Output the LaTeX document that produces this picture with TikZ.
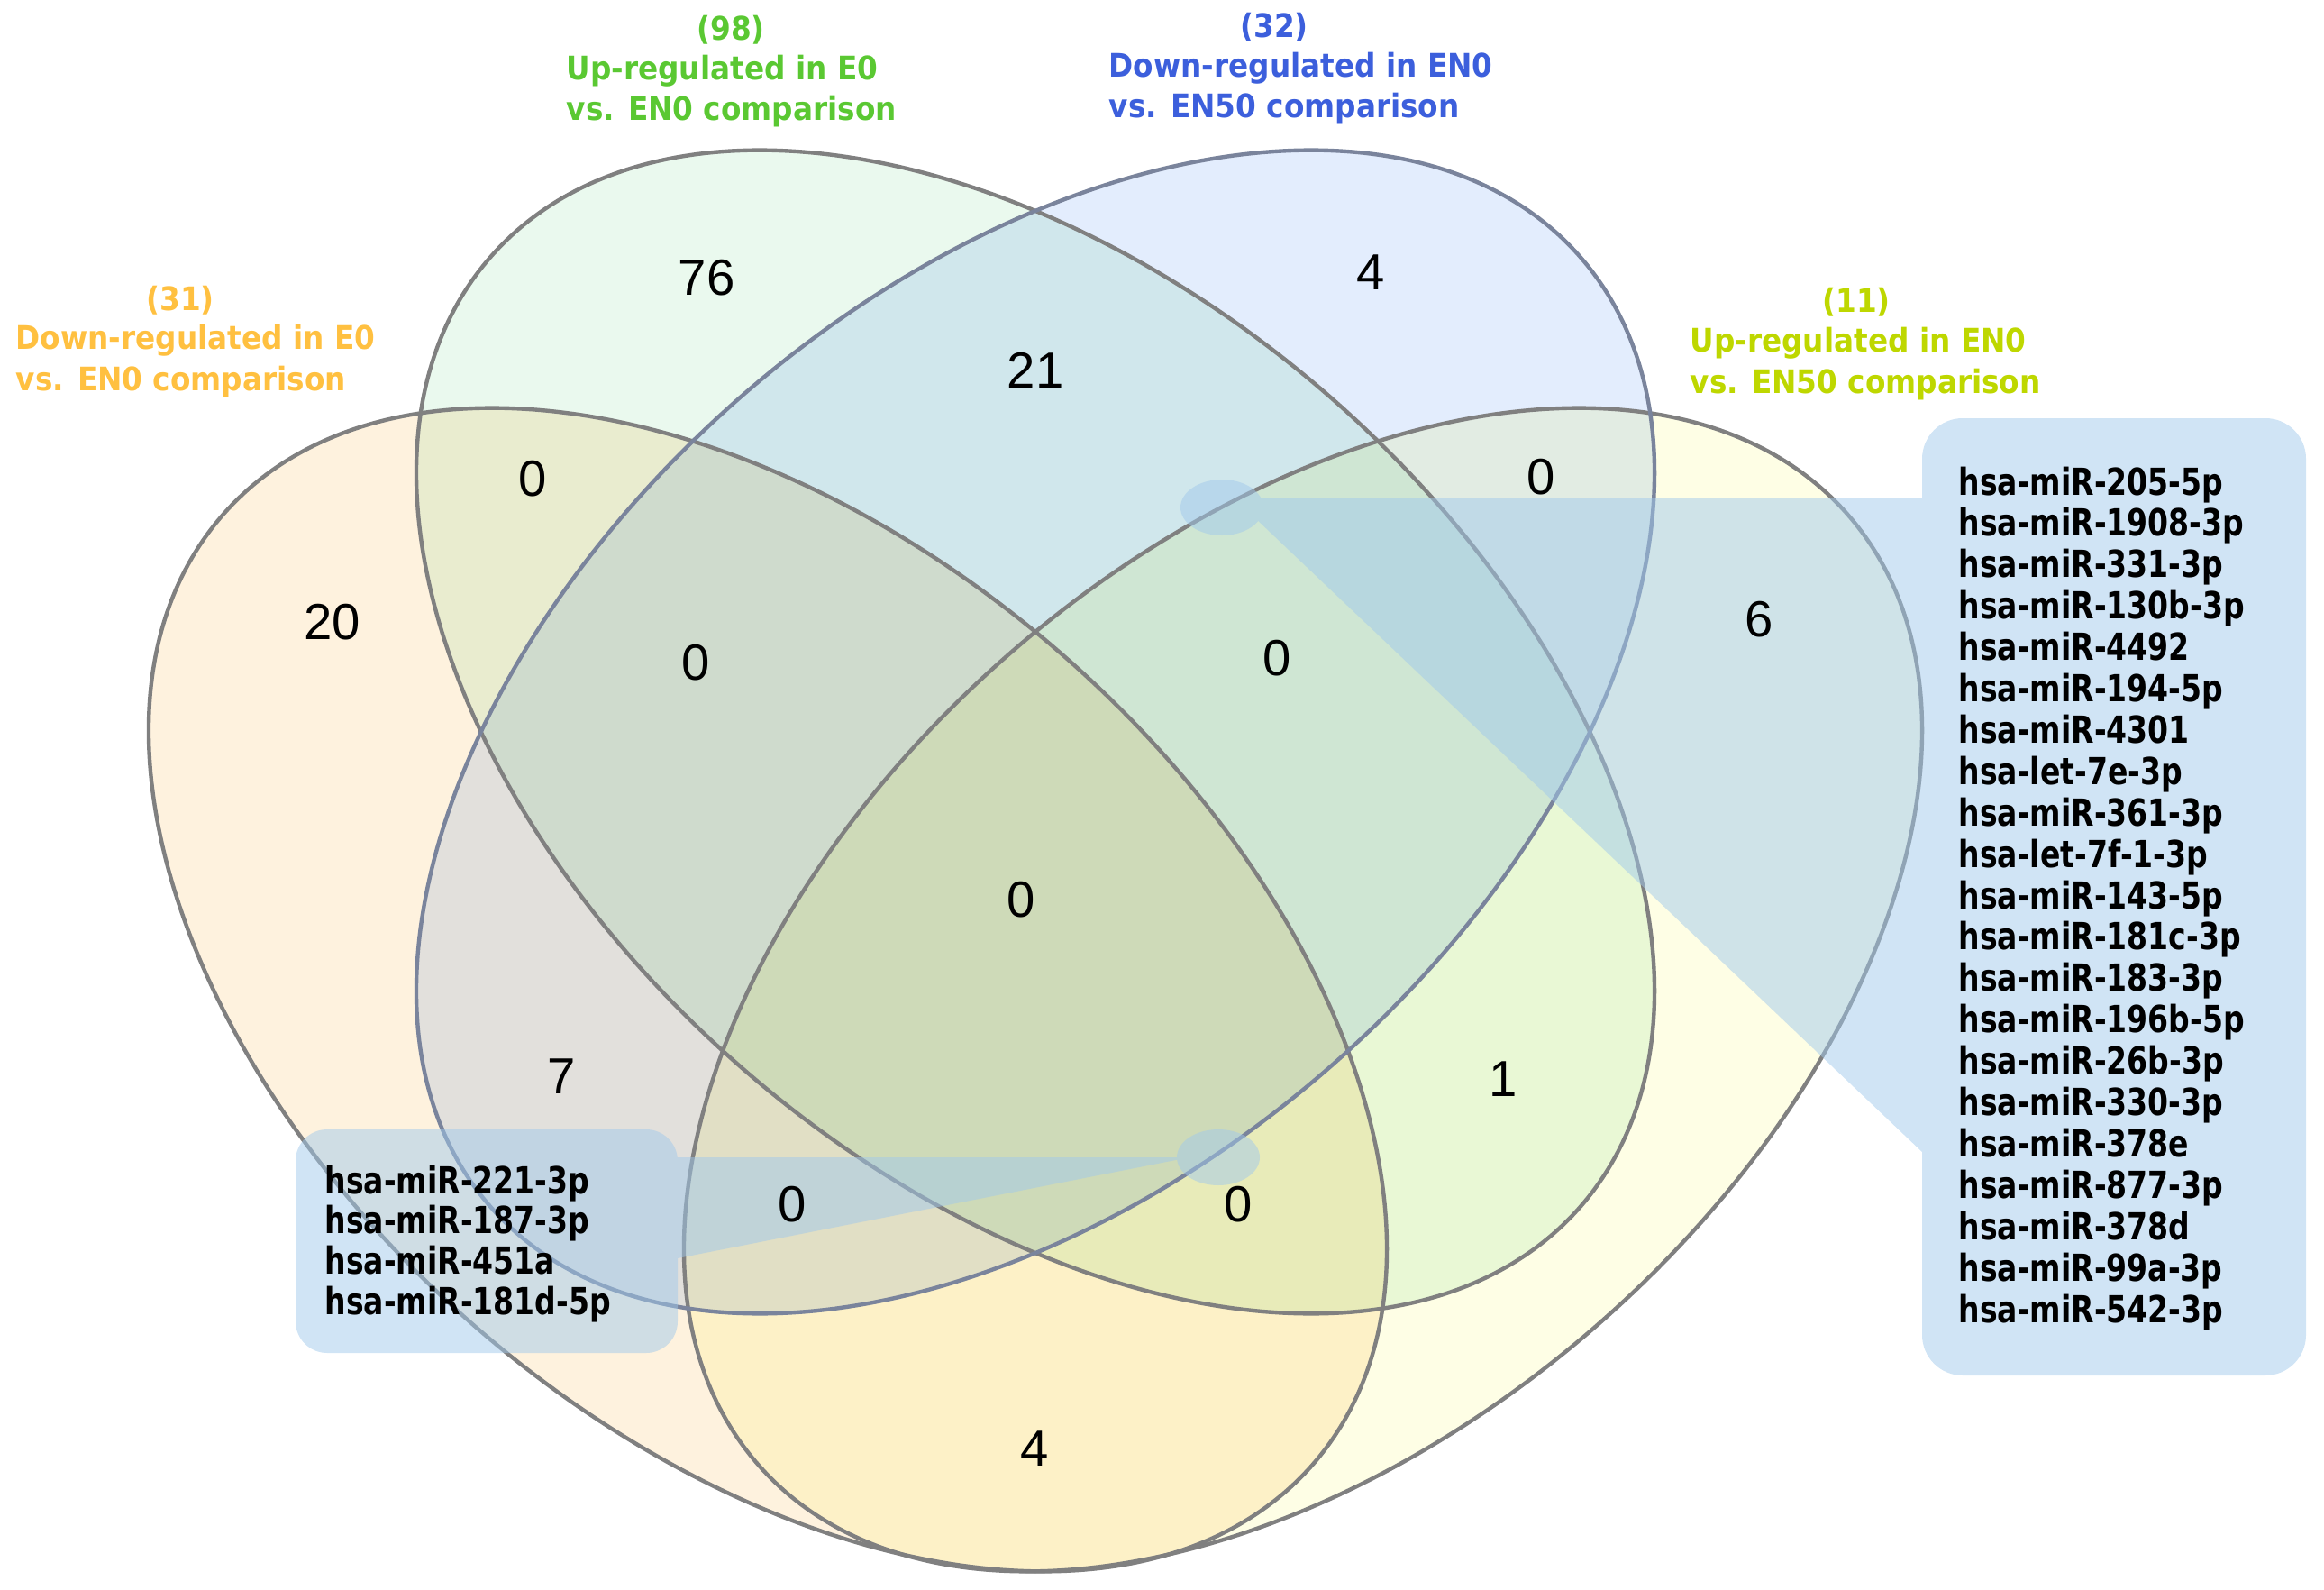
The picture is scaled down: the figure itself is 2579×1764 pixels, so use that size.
\documentclass[tikz,border=0pt]{standalone}
\usepackage{fontspec}
\setmainfont{DejaVu Sans}
\newfontfamily\lblfont{DejaVu Sans}
\newfontfamily\numfont{Liberation Sans}
\definecolor{fillA}{RGB}{254,242,222}
\definecolor{fillB}{RGB}{234,249,238}
\definecolor{fillC}{RGB}{227,237,253}
\definecolor{fillD}{RGB}{254,254,229}
\definecolor{lineG}{RGB}{128,128,128}
\definecolor{lineBl}{RGB}{122,132,156}
\definecolor{callout}{RGB}{161,201,235}
\definecolor{tA}{RGB}{255,192,64}
\definecolor{tB}{RGB}{90,200,50}
\definecolor{tC}{RGB}{60,95,220}
\definecolor{tD}{RGB}{190,215,0}
\newcommand{\tallA}[1]{\scalebox{1}[1.1]{#1}}
\newcommand{\tallB}[1]{\scalebox{1}[1.25]{#1}}
\tikzset{
  num/.style={font=\numfont\fontsize{16}{16}\selectfont, inner sep=0pt},
  ttl/.style={font=\lblfont\bfseries\fontsize{9.3}{11}\selectfont, inner sep=0pt, anchor=base west},
  cnt/.style={font=\lblfont\bfseries\fontsize{9.3}{11}\selectfont, inner sep=0pt, anchor=base},
  lst/.style={font=\lblfont\bfseries\fontsize{9.4}{11}\selectfont, inner sep=0pt, anchor=base west},
  setline/.style={draw=lineG, line width=1.25pt},
}
\begin{document}
\begin{tikzpicture}[x=0.01cm,y=-0.01cm]
\useasboundingbox (0,0) rectangle (2579,1764);
% set fills
\begin{scope}[blend group=multiply]
  \fill[fillA, rotate around={-41:(852,1098)}] (852,1098) ellipse (802 and 495);
  \fill[fillB, rotate around={-41:(1149,812)}] (1149,812) ellipse (802 and 495);
  \fill[fillC, rotate around={41:(1149,812)}] (1149,812) ellipse (802 and 495);
  \fill[fillD, rotate around={41:(1446,1098)}] (1446,1098) ellipse (802 and 495);
\end{scope}
% set outlines
\draw[setline, rotate around={-41:(852,1098)}] (852,1098) ellipse (802 and 495);
\draw[setline, rotate around={41:(1446,1098)}] (1446,1098) ellipse (802 and 495);
\draw[setline, rotate around={-41:(1149,812)}] (1149,812) ellipse (802 and 495);
\draw[setline, draw=lineBl, rotate around={41:(1149,812)}] (1149,812) ellipse (802 and 495);
% callouts
\coordinate (dotR) at (1356,563);
\coordinate (dotL) at (1352,1284);
\begin{scope}[transparency group, opacity=0.5]
  \fill[callout, rounded corners=0.45cm] (2133,464) rectangle (2559,1526);
  \fill[callout] (1370,553) -- (2150,553) -- (2150,1278) -- (2133,1278) -- cycle;
  \fill[callout] (dotR) ellipse (46 and 31);
  \fill[callout, rounded corners=0.35cm] (328,1253) rectangle (752,1501);
  \fill[callout] (735,1284) -- (1320,1284) -- (752,1396) -- (735,1396) -- cycle;
  \fill[callout] (dotL) ellipse (46 and 31);
\end{scope}
% titles
\node[cnt, text=tA] (cntA) at (200,345) {\tallA{(31)}};
\node[ttl, text=tA] (tA1) at (17,388) {\tallA{Down-regulated in E0}};
\node[ttl, text=tA] (tA2) at (17,434) {\tallA{vs. EN0 comparison}};
\node[cnt, text=tB] (cntB) at (811,45) {\tallA{(98)}};
\node[ttl, text=tB] (tB1) at (628,89) {\tallA{Up-regulated in E0}};
\node[ttl, text=tB] (tB2) at (628,134) {\tallA{vs. EN0 comparison}};
\node[cnt, text=tC] (cntC) at (1414,42) {\tallA{(32)}};
\node[ttl, text=tC] (tC1) at (1230,86) {\tallA{Down-regulated in EN0}};
\node[ttl, text=tC] (tC2) at (1230,131) {\tallA{vs. EN50 comparison}};
\node[cnt, text=tD] (cntD) at (2060,347) {\tallA{(11)}};
\node[ttl, text=tD] (tD1) at (1875,390) {\tallA{Up-regulated in EN0}};
\node[ttl, text=tD] (tD2) at (1875,436) {\tallA{vs. EN50 comparison}};
% region counts
\node[num] (nB) at (784,308) {76};
\node[num] (nC) at (1521,302) {4};
\node[num] (nBC) at (1149,411) {21};
\node[num] (nAB) at (591,531) {0};
\node[num] (nCD) at (1710,529) {0};
\node[num] (nA) at (369,690) {20};
\node[num] (nD) at (1952,687) {6};
\node[num] (nABC) at (772,735) {0};
\node[num] (nBCD) at (1417,730) {0};
\node[num] (nABCD) at (1133,998) {0};
\node[num] (nAC) at (623,1194) {7};
\node[num] (nBD) at (1668,1197) {1};
\node[num] (nACD) at (879,1336) {0};
\node[num] (nABD) at (1374,1336) {0};
\node[num] (nAD) at (1148,1607) {4};
% lists
\foreach \t [count=\i] in {hsa-miR-205-5p,hsa-miR-1908-3p,hsa-miR-331-3p,hsa-miR-130b-3p,hsa-miR-4492,hsa-miR-194-5p,hsa-miR-4301,hsa-let-7e-3p,hsa-miR-361-3p,hsa-let-7f-1-3p,hsa-miR-143-5p,hsa-miR-181c-3p,hsa-miR-183-3p,hsa-miR-196b-5p,hsa-miR-26b-3p,hsa-miR-330-3p,hsa-miR-378e,hsa-miR-877-3p,hsa-miR-378d,hsa-miR-99a-3p,hsa-miR-542-3p}
  \node[lst] (r\i) at (2173,{549+45.9*(\i-1)}) {\tallB{\t}};
\foreach \t [count=\i] in {hsa-miR-221-3p,hsa-miR-187-3p,hsa-miR-451a,hsa-miR-181d-5p}
  \node[lst] (l\i) at (360,{1324+44.7*(\i-1)}) {\tallB{\t}};
\end{tikzpicture}
\end{document}
